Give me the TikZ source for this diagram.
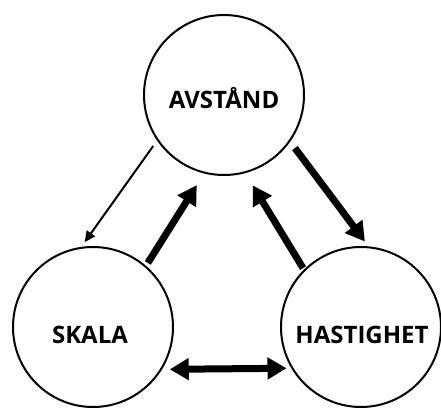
\documentclass[tikz,border=0pt]{standalone}
\usepackage{fontspec}
\setmainfont{Open Sans}
\usetikzlibrary{arrows.meta}
\begin{document}
\begin{tikzpicture}[x=1pt,y=-1pt,
  ball/.style={circle,draw,line width=2pt,minimum size=160pt,inner sep=0pt,outer sep=0pt},
  word/.style={font=\bfseries\fontsize{24}{24}\selectfont,anchor=base,inner sep=0pt},
  lightarrow/.style={line width=2pt,-{Triangle[length=11pt,width=10pt]}},
  heavyarrow/.style={line width=7pt,-{Triangle[length=19pt,width=21pt]}},
  bothways/.style={line width=7pt,{Triangle[length=19pt,width=21pt]}-{Triangle[length=19pt,width=21pt]}},
]
\useasboundingbox (0,0) rectangle (441,409);

% the three quantities
\node[ball] (T) at (224,95) {};
\node[ball] (L) at (93,327) {};
\node[ball] (R) at (361,327) {};

\node[word] (tA) at ([yshift=-13pt]T.center) {AVSTÅND};
\node[word] (tS) at ([xshift=-3pt,yshift=-16pt]L.center) {SKALA};
\node[word] (tH) at ([xshift=1pt,yshift=-16pt]R.center) {HASTIGHET};

% relations between them
\draw[lightarrow, shorten <=7.7pt, shorten >=7.1pt] (T.214.8) -- (L.99.2);
\draw[heavyarrow, shorten <=4.4pt, shorten >=14.8pt] (L.49.3) -- (T.256);
\draw[heavyarrow, shorten <=9pt, shorten >=7.4pt] (T.325.1) -- (R.84.7);
\draw[heavyarrow, shorten <=2.7pt, shorten >=15.3pt] (R.135.5) -- (T.285.2);
\draw[bothways, shorten <=8.9pt, shorten >=5.9pt] (L.328.3) -- (R.211.7);
\end{tikzpicture}
\end{document}
